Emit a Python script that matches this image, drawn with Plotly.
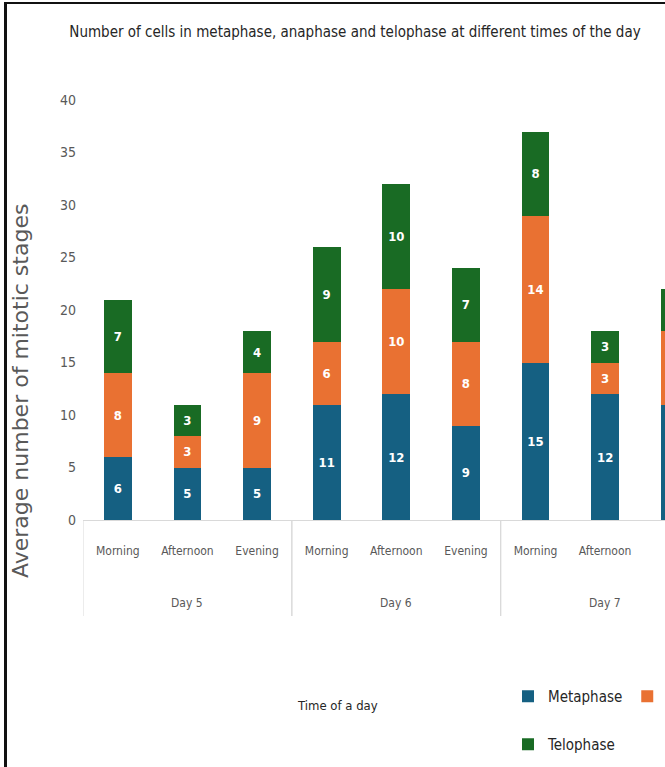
import plotly.graph_objects as go

days = ["Day 5"] * 3 + ["Day 6"] * 3 + ["Day 7"] * 3
times = ["Morning", "Afternoon", "Evening"] * 3
metaphase = [6, 5, 5, 11, 12, 9, 15, 12, 11]
anaphase = [8, 3, 9, 6, 10, 8, 14, 3, 7]
telophase = [7, 3, 4, 9, 10, 7, 8, 3, 4]
y_ticks = [0, 5, 10, 15, 20, 25, 30, 35, 40]

FONT = "DejaVu Sans Condensed, Roboto, sans-serif"
WIDE = "DejaVu Sans, Verdana, sans-serif"
GRAY = "#595959"

W, H = 665, 767
L, R, T, B = 83, 0, 100, 247
gw = W - L - R
gh = H - T - B


def px(p):
    return (p - L) / gw


def py(q):
    return (H - B - q) / gh


xpos = list(range(len(times)))

fig = go.Figure()
series = [
    ("Metaphase", metaphase, "#156082", "legend"),
    ("Anaphase", anaphase, "#E97132", "legend"),
    ("Telophase", telophase, "#196B24", "legend2"),
]
for name, vals, col, lg in series:
    fig.add_trace(go.Bar(
        x=xpos, y=vals, name=name, marker_color=col,
        marker_line_width=0, legend=lg, width=0.4,
        text=vals, texttemplate="%{text}", textposition="inside",
        insidetextanchor="middle", textangle=0,
        textfont=dict(color="white", size=13, family=FONT, weight="bold"),
    ))

fig.update_layout(
    width=W, height=H,
    margin=dict(l=L, r=R, t=T, b=B, autoexpand=False),
    barmode="stack",
    plot_bgcolor="white", paper_bgcolor="white",
    font=dict(family=FONT, color=GRAY, size=14),
    showlegend=True,
    title=dict(text="Number of cells in metaphase, anaphase and telophase at different times of the day",
               xref="container", x=355 / W, xanchor="center", y=1 - 32 / H, yanchor="middle",
               font=dict(family=FONT, size=15, color="#262626")),
    legend=dict(orientation="h", x=px(508), xanchor="left", y=py(680), yanchor="top",
                font=dict(family=FONT, size=15, color="#262626"), itemwidth=30,
                traceorder="normal", bgcolor="rgba(0,0,0,0)"),
    legend2=dict(orientation="h", x=px(508), xanchor="left", y=py(728), yanchor="top",
                 font=dict(family=FONT, size=15, color="#262626"), itemwidth=30,
                 bgcolor="rgba(0,0,0,0)"),
)
fig.update_xaxes(
    range=[-0.5, 7.86], tickmode="array", tickvals=xpos, ticktext=times,
    showline=True, linecolor="#d9d9d9", linewidth=1,
    tickfont=dict(family=FONT, size=12, color=GRAY),
    showgrid=False, zeroline=False, ticks="", ticklabelstandoff=20,
)
fig.update_yaxes(
    range=[0, 40], tickvals=y_ticks, showgrid=False, zeroline=False,
    showline=False, tickfont=dict(family=FONT, size=14, color=GRAY),
    ticklabelstandoff=6,
)

# day group labels and dividers, derived from the category lists
groups = []
for i, d in enumerate(days):
    if not groups or groups[-1][0] != d:
        groups.append([d, i, i])
    else:
        groups[-1][2] = i
for d, i0, i1 in groups:
    fig.add_annotation(text=d, xref="x", yref="paper", x=(i0 + i1) / 2, y=py(603),
                       xanchor="center", yanchor="middle", showarrow=False,
                       font=dict(family=FONT, size=12, color=GRAY))
    for xb in (i0 - 0.5, i1 + 0.5):
        fig.add_shape(type="line", xref="x", yref="paper", x0=xb, x1=xb, y0=py(520), y1=py(616),
                      line=dict(color="#d9d9d9", width=1))

fig.add_annotation(text="Time of a day", xref="paper", yref="paper",
                   x=px(337), y=py(705), xanchor="center", yanchor="middle",
                   showarrow=False, font=dict(family=FONT, size=13, color="#262626"))
fig.add_annotation(text="Average number of mitotic stages", xref="paper", yref="paper",
                   x=px(20), y=py(391), xanchor="center", yanchor="middle", textangle=-90,
                   showarrow=False, font=dict(family=WIDE, size=22, color=GRAY))
# image frame (left and top border)
fig.add_shape(type="line", xref="paper", yref="paper", x0=px(5.5), x1=px(5.5), y0=py(2), y1=py(767),
              line=dict(color="#111111", width=3))
fig.add_shape(type="line", xref="paper", yref="paper", x0=px(4), x1=px(665), y0=py(3), y1=py(3),
              line=dict(color="#111111", width=2))

fig.write_html("out.html")
